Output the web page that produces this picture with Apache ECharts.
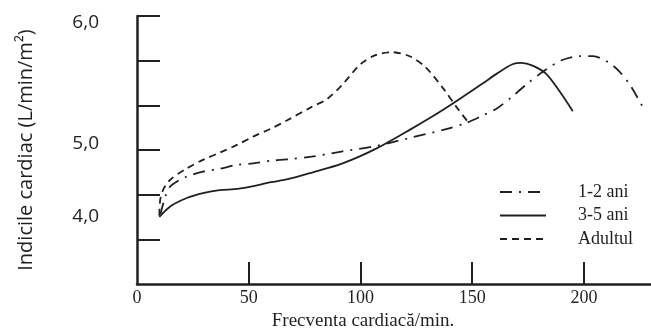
<!DOCTYPE html>
<html>
<head>
<meta charset="utf-8">
<script src="https://cdn.jsdelivr.net/npm/echarts@6/dist/echarts.min.js"></script>
<style>
  html, body { margin: 0; padding: 0; background: #fff; }
  #chart { width: 651px; height: 331px; }
</style>
</head>
<body>
<div id="chart"></div>
<script>
// frecventa cardiaca (bpm) si indicele cardiac
const hr12 = [10.5, 12.6, 15, 22, 30, 37, 45, 52, 60, 67, 78, 92, 107, 122, 137, 147, 155, 161, 168, 175, 183, 190, 198, 204, 213, 220, 227];
const ci12 = [4.52, 4.65, 4.73, 4.80, 4.84, 4.86, 4.89, 4.90, 4.92, 4.93, 4.95, 4.99, 5.03, 5.09, 5.15, 5.20, 5.26, 5.31, 5.40, 5.50, 5.60, 5.67, 5.70, 5.70, 5.63, 5.50, 5.30];

const hr35 = [10, 15, 22, 30, 37, 45, 52, 60, 67, 78, 92, 107, 122, 137, 155, 161, 168, 172, 177, 183, 189, 195];
const ci35 = [4.50, 4.58, 4.64, 4.68, 4.70, 4.71, 4.73, 4.76, 4.78, 4.83, 4.90, 5.01, 5.15, 5.30, 5.50, 5.57, 5.64, 5.65, 5.63, 5.57, 5.44, 5.29];

const hrAd = [10, 10.4, 11.9, 15, 22, 30, 37, 45, 52, 60, 67, 78, 85, 92, 100, 107, 114, 122, 129, 137, 143, 149];
const ciAd = [4.51, 4.63, 4.71, 4.78, 4.86, 4.93, 4.98, 5.04, 5.10, 5.16, 5.22, 5.32, 5.38, 5.49, 5.64, 5.71, 5.73, 5.70, 5.62, 5.46, 5.32, 5.19];

const seriesNames = ['1-2 ani', '3-5 ani', 'Adultul'];
const xTicks = [50, 100, 150, 200];
const xLabels = [0, 50, 100, 150, 200];
const yTicks = [4 + 1 / 3, 4 + 2 / 3, 5, 5 + 1 / 3, 5 + 2 / 3, 6];
const yLabels = {4.5: '{m|4,0}', 5: '{up|5,0}', 6: '{down|6,0}'};

const ink = '#231f20';
const zip = (xs, ys) => xs.map((x, i) => [x, ys[i]]);

var myChart = echarts.init(document.getElementById('chart'));
myChart.setOption({
    animation: false,
    grid: {left: 137, right: 0, top: 16, bottom: 47, outerBoundsMode: 'none'},
    legend: {
        orient: 'vertical',
        left: 494,
        top: 178,
        itemWidth: 46,
        itemHeight: 14,
        itemGap: 5.5,
        data: seriesNames,
        itemStyle: {opacity: 0},
        formatter: name => '{t|' + name + '}',
        textStyle: {
            color: ink,
            fontFamily: 'Liberation Serif',
            fontSize: 18,
            rich: {t: {padding: [0, 0, 0, 27], fontFamily: 'Liberation Serif', fontSize: 18, color: ink, lineHeight: 20}}
        }
    },
    xAxis: {
        type: 'value',
        min: 0,
        max: 230,
        name: 'Frecventa cardiacă/min.',
        nameLocation: 'middle',
        nameGap: 28,
        nameTextStyle: {color: ink, fontFamily: 'Liberation Serif', fontSize: 19, padding: [0, 62, 0, 0]},
        axisLine: {lineStyle: {color: ink, width: 2.5}},
        axisTick: {inside: true, length: 22, customValues: xTicks, lineStyle: {color: ink, width: 2}},
        axisLabel: {customValues: xLabels, color: ink, fontFamily: 'Liberation Serif', fontSize: 18, margin: 5},
        splitLine: {show: false}
    },
    yAxis: {
        type: 'value',
        min: 4,
        max: 6,
        name: 'Indicile cardiac (L/min/m²)',
        nameLocation: 'middle',
        nameRotate: 90,
        nameGap: 101,
        nameTextStyle: {color: ink, fontFamily: 'Open Sans', fontSize: 20},
        axisLine: {lineStyle: {color: ink, width: 2.5}},
        axisTick: {inside: true, length: 23, customValues: yTicks, lineStyle: {color: ink, width: 2}},
        axisLabel: {
            customValues: [4.5, 5, 6],
            formatter: v => yLabels[v] || '',
            color: ink, fontFamily: 'Open Sans', fontSize: 19, margin: 38,
            rich: {
                m: {color: ink, fontFamily: 'Open Sans', fontSize: 19},
                up: {color: ink, fontFamily: 'Open Sans', fontSize: 19, padding: [0, 0, 12, 0]},
                down: {color: ink, fontFamily: 'Open Sans', fontSize: 19, padding: [14, 0, 0, 0]}
            }
        },
        splitLine: {show: false}
    },
    series: [
        {
            name: seriesNames[0], type: 'line', symbol: 'none', smooth: 0.3,
            itemStyle: {color: ink},
            lineStyle: {color: ink, width: 1.8, type: [12, 7, 2, 7]},
            data: zip(hr12, ci12)
        },
        {
            name: seriesNames[1], type: 'line', symbol: 'none', smooth: 0.3,
            itemStyle: {color: ink},
            lineStyle: {color: ink, width: 1.8, type: 'solid'},
            data: zip(hr35, ci35)
        },
        {
            name: seriesNames[2], type: 'line', symbol: 'none', smooth: 0.3,
            itemStyle: {color: ink},
            lineStyle: {color: ink, width: 1.8, type: [7, 5]},
            data: zip(hrAd, ciAd)
        }
    ]
});
</script>
</body>
</html>
